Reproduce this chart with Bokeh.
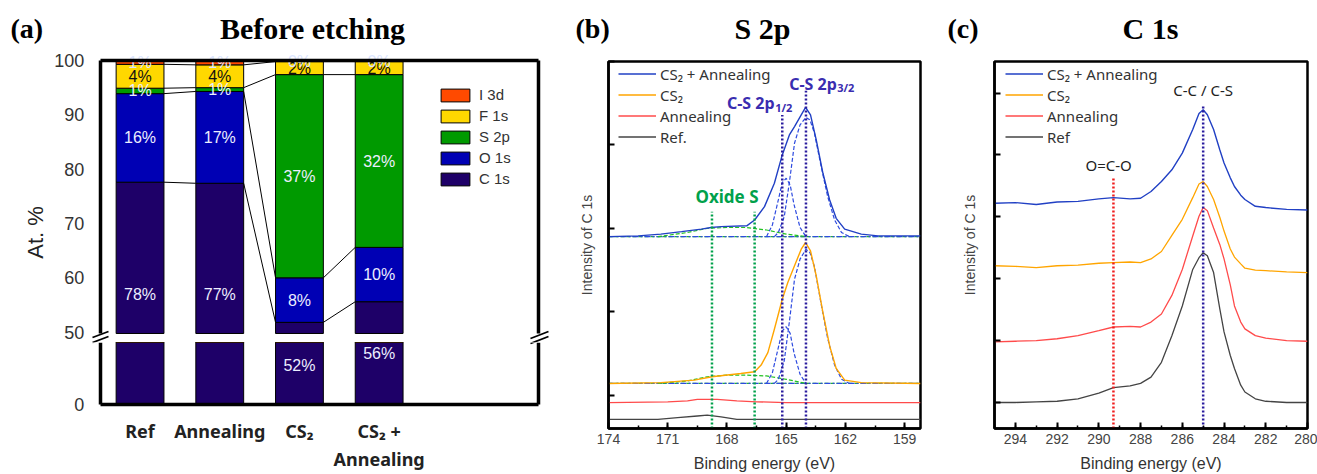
import numpy as np
from bokeh.plotting import figure
from bokeh.layouts import row, column
from bokeh.models import (Range1d, LinearAxis, FixedTicker, SingleIntervalTicker,
                          Legend, LegendItem)
from bokeh.embed import file_html
from bokeh.resources import INLINE
from bokeh.core.properties import value

# ---------------- (a) composition data ----------------
samples = ["Ref", "Annealing", "CS₂", "CS₂ +\nAnnealing"]
elements = ["C 1s", "O 1s", "S 2p", "F 1s", "I 3d"]
c1s = [77.6, 77.4, 51.8, 55.6]
o1s = [16.3, 16.9, 8.2, 10.0]
s2p = [1.0, 0.7, 37.4, 31.8]
f1s = [4.4, 4.2, 2.4, 2.4]
i3d = [0.7, 0.8, 0.2, 0.2]
c1s_label_y = [57.0, 57.0, 30.0, 39.0]
c1s_label_lower = [False, False, True, True]
a_ticks_upper = [50, 60, 70, 80, 90, 100]
a_ticks_lower = [0]

# ---------------- (b) S 2p spectra ----------------
b_x_csa = [174, 172.5, 171.35, 170.3, 169.3, 168.8, 168.3, 167.0, 166.6, 166.1, 165.6, 165.2,
           164.84, 164.58, 164.24, 164.02, 163.77, 163.48, 163.14, 162.8, 162.47, 162.04,
           161.2, 160.35, 158.2]
b_y_csa = [2.90, 2.91, 2.93, 2.96, 2.99, 3.01, 3.02, 3.03, 3.10, 3.26, 3.54, 3.88,
           4.12, 4.22, 4.36, 4.45, 4.36, 4.06, 3.66, 3.34, 3.12, 2.99,
           2.93, 2.91, 2.91]
b_x_cs2 = [174, 171.35, 169.65, 168.76, 167.3, 166.6, 166.27, 165.93, 165.6, 165.2, 164.92,
           164.58, 164.24, 164.02, 163.77, 163.48, 163.14, 162.8, 162.47, 162.04, 161.2, 158.2]
b_y_cs2 = [1.14, 1.15, 1.18, 1.22, 1.26, 1.28, 1.36, 1.51, 1.79, 2.15, 2.35,
           2.55, 2.75, 2.83, 2.73, 2.43, 1.99, 1.59, 1.32, 1.18, 1.15, 1.14]
b_x_ann = [174, 171, 170, 169.5, 168.5, 167.5, 166.5, 165, 162, 158.2]
b_y_ann = [0.91, 0.92, 0.93, 0.95, 0.95, 0.93, 0.92, 0.91, 0.91, 0.91]
b_x_ref = [174, 171.5, 170.5, 169.5, 169.0, 168.3, 167.5, 166, 158.2]
b_y_ref = [0.71, 0.71, 0.73, 0.75, 0.76, 0.74, 0.71, 0.71, 0.71]

fit_x_p32 = [165.6, 165.4, 165.1, 164.84, 164.58, 164.3, 164.0, 163.8, 163.57, 163.23,
             162.9, 162.55, 162.2, 161.8]
fit_csa_p32 = [2.90, 2.95, 3.14, 3.55, 4.02, 4.24, 4.33, 4.30, 4.14, 3.74, 3.38, 3.10, 2.95, 2.90]
fit_cs2_p32 = [1.14, 1.19, 1.41, 1.88, 2.39, 2.63, 2.75, 2.71, 2.54, 2.09, 1.68, 1.36, 1.19, 1.14]
fit_x_p12 = [166.0, 165.7, 165.4, 165.2, 165.0, 164.8, 164.6, 164.3, 164.0]
fit_csa_p12 = [2.90, 3.04, 3.34, 3.55, 3.60, 3.52, 3.28, 3.01, 2.90]
fit_cs2_p12 = [1.14, 1.27, 1.57, 1.77, 1.82, 1.74, 1.50, 1.25, 1.14]
fit_x_ox = [171.5, 170.0, 169.0, 168.0, 167.0, 166.0, 165.0, 164.0]
fit_csa_ox = [2.90, 2.95, 3.00, 3.01, 3.01, 2.98, 2.93, 2.90]
fit_cs2_ox = [1.14, 1.17, 1.22, 1.24, 1.24, 1.23, 1.19, 1.14]
fit_bg_x = [174, 158.2]
fit_bg_csa = [2.90, 2.90]
fit_bg_cs2 = [1.14, 1.14]

b_mark_x = [168.76, 166.6, 165.2, 164.0]
b_mark_top = [3.20, 3.20, 4.36, 4.65]
b_ticks_y = [1, 2, 3, 4, 5]

# ---------------- (c) C 1s spectra ----------------
c_x = [295, 294, 293, 292, 291, 290, 289.3, 288.5, 288, 287.5, 287, 286.5, 286, 285.5,
       285.2, 285.0, 284.8, 284.5, 284.2, 284.0, 283.7, 283.5, 283.2, 283, 282.5, 282, 281, 280]
c_y_csa = [4.22, 4.23, 4.20, 4.24, 4.25, 4.29, 4.31, 4.29, 4.30, 4.41, 4.57, 4.76, 5.03, 5.41,
           5.67, 5.73, 5.65, 5.41, 5.08, 4.87, 4.63, 4.49, 4.35, 4.28, 4.17, 4.15, 4.12, 4.11]
c_y_cs2 = [3.21, 3.20, 3.18, 3.21, 3.22, 3.25, 3.26, 3.27, 3.26, 3.32, 3.44, 3.70, 3.96, 4.31,
           4.53, 4.57, 4.49, 4.28, 3.99, 3.77, 3.48, 3.35, 3.24, 3.17, 3.14, 3.13, 3.11, 3.10]
c_y_ann = [1.98, 1.99, 2.00, 2.03, 2.08, 2.16, 2.22, 2.23, 2.22, 2.30, 2.43, 2.73, 3.15, 3.69,
           4.01, 4.15, 4.10, 3.82, 3.55, 3.32, 2.90, 2.56, 2.30, 2.19, 2.08, 2.04, 2.00, 1.99]
c_y_ref = [1.00, 1.00, 1.01, 1.02, 1.06, 1.15, 1.24, 1.27, 1.31, 1.41, 1.65, 2.08, 2.56, 3.15,
           3.34, 3.42, 3.37, 3.10, 2.51, 2.14, 1.76, 1.55, 1.28, 1.17, 1.06, 1.02, 1.00, 1.00]
c_mark_x = [289.3, 285.0]
c_mark_top = [4.63, 5.81]
c_ticks_y = [1, 2, 3, 4, 5, 6]

# ---------------- styles ----------------
SANS = "Liberation Sans"
KO = "Noto Sans"
SERIF = "Liberation Serif"
EL_COLORS = ["#1E0068", "#0000B4", "#009A00", "#FFD800", "#FF4A00"]
COL_CSA = "#2140C4"
COL_CS2 = "#FFA500"
COL_ANN = "#FF4B4B"
COL_REF = "#444444"
FIT_BLUE = "#2E4BE0"
FIT_GREEN = "#22C222"
MARK_GREEN = "#00A14B"
MARK_NAVY = "#2A1C9E"
MARK_RED = "#F01E1E"
LBL_NAVY = "#3A2DB0"
TOTAL_W = 1317
HEAD_H = 46
SPLIT_Y = 342   # page row where the upper and lower halves of panel (a) meet


def txt(p, x, y, text, size, color="black", font=SANS, style="normal", align="left",
        baseline="middle", angle=0):
    p.text(x=[x], y=[y], text=[text], text_font=value(font), text_font_size=value(size),
           text_font_style=value(style), text_color=color, text_align=align,
           text_baseline=baseline, angle=angle, angle_units="deg")


def line_axis(width=3.5, **kw):
    return LinearAxis(ticker=FixedTicker(ticks=[]), axis_line_width=width,
                      axis_line_color="black", major_tick_line_color=None,
                      minor_tick_line_color=None, **kw)


# ================= header row (panel titles) =================
head = figure(width=TOTAL_W, height=HEAD_H, x_range=Range1d(0, TOTAL_W),
              y_range=Range1d(HEAD_H, 0), x_axis_location=None, y_axis_location=None,
              output_backend="svg", toolbar_location=None, min_border=0)
head.outline_line_color = None
head.xgrid.grid_line_color = None
head.ygrid.grid_line_color = None
panel_tags = ["(a)", "(b)", "(c)"]
panel_tag_x = [10, 575, 947]
panel_titles = ["Before etching", "S 2p", "C 1s"]
panel_title_x = [312, 762, 1150]
title_mid_y = 28
head.text(x=panel_tag_x, y=[title_mid_y] * 3, text=panel_tags, text_font=value(SERIF),
          text_font_style=value("bold"), text_font_size=value("28px"), text_color="black",
          text_align="left", text_baseline="middle")
head.text(x=panel_title_x, y=[title_mid_y] * 3, text=panel_titles, text_font=value(SERIF),
          text_font_style=value("bold"), text_font_size=value("30px"), text_color="black",
          text_align="center", text_baseline="middle")

# ================= panel (a) =================
xA = list(range(len(samples)))
comp = np.array([c1s, o1s, s2p, f1s, i3d])
tops = np.cumsum(comp, axis=0)
bots = tops - comp
bar_w = 0.6
upper_floor = 49.75
A_PX_PER_UNIT = 279 / 51.356   # upper half: 100 at y=60
LO_PX_PER_UNIT = 1.3           # lower half: 0 at y=404


def a_x(px):
    return -1.5 + (px - 20) * 6.65 / 530


def a_up_y(py):
    return 100 - (py - 60) / A_PX_PER_UNIT


def a_lo_y(py):
    return (404 - py) / LO_PX_PER_UNIT


pa = figure(width=560, height=SPLIT_Y - HEAD_H, x_range=Range1d(-1.5, 5.15),
            y_range=Range1d(a_up_y(SPLIT_Y), a_up_y(HEAD_H)),
            x_axis_location=None, output_backend="svg", toolbar_location=None,
            min_border_left=20, min_border_right=10, min_border_top=0, min_border_bottom=0)
pl = figure(width=560, height=474 - SPLIT_Y, x_range=Range1d(-1.5, 5.15),
            y_range=Range1d(a_lo_y(474), a_lo_y(SPLIT_Y)),
            output_backend="svg", toolbar_location=None,
            min_border_left=20, min_border_right=10, min_border_top=0, min_border_bottom=0)
for p, bnds, ticks in ((pa, (upper_floor, 100), a_ticks_upper),
                       (pl, (0, a_lo_y(SPLIT_Y)), a_ticks_lower)):
    p.outline_line_color = None
    p.xgrid.grid_line_color = None
    p.ygrid.grid_line_color = None
    p.yaxis.fixed_location = -0.5
    p.yaxis.bounds = bnds
    p.yaxis.ticker = FixedTicker(ticks=ticks)
    p.yaxis.axis_line_width = 3.5
    p.yaxis.axis_line_color = "black"
    p.yaxis.major_tick_line_color = None
    p.yaxis.minor_tick_line_color = None
    p.yaxis.major_label_text_font = SANS
    p.yaxis.major_label_text_font_size = "18px"
    p.yaxis.major_label_text_color = "#333333"
    p.yaxis.major_label_standoff = 10
    p.add_layout(line_axis(fixed_location=5.0, bounds=bnds), "right")
pa.add_layout(line_axis(fixed_location=100, bounds=(-0.5, 5.0)), "above")

pl.xaxis.fixed_location = 0
pl.xaxis.bounds = (-0.5, 5.0)
pl.xaxis.ticker = FixedTicker(ticks=xA)
pl.xaxis.major_label_overrides = {i: s for i, s in enumerate(samples)}
pl.xaxis.axis_line_width = 3.5
pl.xaxis.axis_line_color = "black"
pl.xaxis.major_tick_line_color = None
pl.xaxis.minor_tick_line_color = None
pl.xaxis.major_label_text_font = KO
pl.xaxis.major_label_text_font_style = "bold"
pl.xaxis.major_label_text_font_size = "18px"
pl.xaxis.major_label_text_color = "#222222"
pl.xaxis.major_label_standoff = 8

bar_renderers = []
for k in range(len(elements)):
    r = pa.vbar(x=xA, bottom=np.maximum(bots[k], upper_floor).tolist(), top=tops[k].tolist(),
                width=bar_w, fill_color=EL_COLORS[k], line_color="black", line_width=1)
    pl.vbar(x=xA, bottom=bots[k].tolist(), top=np.minimum(tops[k], 50).tolist(), width=bar_w,
            fill_color=EL_COLORS[k], line_color="black", line_width=1)
    bar_renderers.append(r)

# connecting lines between adjacent bars at every stack boundary
for k in range(len(elements) - 1):
    pa.segment(x0=[i + bar_w / 2 for i in xA[:-1]], y0=tops[k][:-1].tolist(),
               x1=[i + 1 - bar_w / 2 for i in xA[:-1]], y1=tops[k][1:].tolist(),
               line_color="black", line_width=1)

# percentage labels
for k in range(1, len(elements)):
    mids = (bots[k] + comp[k] / 2).tolist()
    labels = [f"{v:.0f}%" for v in comp[k]]
    if elements[k] == "F 1s":
        col = "#111111"
    elif elements[k] == "I 3d":
        col = "#DCE6FF"
    else:
        col = "#ECEEFF"
    pa.text(x=xA, y=mids, text=labels, text_font=value(SANS), text_font_size=value("16px"),
            text_align="center", text_baseline="middle", text_color=col)
c_txt = [f"{v:.0f}%" for v in c1s]
up = [i for i in xA if not c1s_label_lower[i]]
lo = [i for i in xA if c1s_label_lower[i]]
pa.text(x=up, y=[c1s_label_y[i] for i in up], text=[c_txt[i] for i in up],
        text_font=value(SANS), text_font_size=value("16px"), text_align="center",
        text_baseline="middle", text_color="#ECEEFF")
pl.text(x=lo, y=[c1s_label_y[i] for i in lo], text=[c_txt[i] for i in lo],
        text_font=value(SANS), text_font_size=value("16px"), text_align="center",
        text_baseline="middle", text_color="#ECEEFF")

leg_a = Legend(items=[LegendItem(label=elements[k], renderers=[bar_renderers[k]])
                      for k in reversed(range(len(elements)))],
               location=(417, SPLIT_Y - 91 - 96), padding=0, margin=0, spacing=4,
               glyph_width=36, glyph_height=16, label_height=16, label_standoff=6,
               label_text_font=SANS, label_text_font_size="15px", label_text_color="#333333",
               border_line_color=None, background_fill_alpha=0)
pa.add_layout(leg_a)

# axis-break marks (page pixels), drawn in both halves of the broken axis
break_marks = [(92, 337, 108, 331), (92, 342, 108, 336),
               (530, 338, 548, 331), (530, 343, 548, 336)]
for p, fy in ((pa, a_up_y), (pl, a_lo_y)):
    p.segment(x0=[a_x(m[0]) for m in break_marks], y0=[fy(m[1]) for m in break_marks],
              x1=[a_x(m[2]) for m in break_marks], y1=[fy(m[3]) for m in break_marks],
              line_color="black", line_width=1.8)

txt(pa, a_x(35), a_up_y(232), "At. %", "22px", color="#222222", font=SANS,
    align="center", baseline="middle", angle=90)


# ================= panels (b), (c) =================
def spectrum_fig(width, xr, yr, left, right, tick_interval, yticks, ylab_standoff):
    p = figure(width=width, height=474 - HEAD_H, x_range=xr, y_range=yr, output_backend="svg",
               toolbar_location=None, min_border_left=left, min_border_right=right,
               min_border_top=61 - HEAD_H, min_border_bottom=44)
    p.xgrid.grid_line_color = None
    p.ygrid.grid_line_color = None
    p.outline_line_color = "black"
    p.outline_line_width = 2.5
    p.outline_line_alpha = 1
    p.xaxis.ticker = SingleIntervalTicker(interval=tick_interval, num_minor_ticks=2)
    p.yaxis.ticker = FixedTicker(ticks=yticks)
    for ax in (p.xaxis, p.yaxis):
        ax.axis_line_width = 2.5
        ax.axis_line_color = "black"
        ax.major_tick_in = 6
        ax.major_tick_out = 0
        ax.major_tick_line_width = 2
        ax.minor_tick_in = 3
        ax.minor_tick_out = 0
        ax.minor_tick_line_width = 1.5
    p.yaxis.minor_tick_line_color = None
    p.yaxis.major_label_overrides = {t: "" for t in yticks}
    p.yaxis.axis_label = "Intensity of C 1s"
    p.yaxis.axis_label_text_font = SANS
    p.yaxis.axis_label_text_font_size = "14px"
    p.yaxis.axis_label_text_font_style = "normal"
    p.yaxis.axis_label_text_color = "#444444"
    p.yaxis.axis_label_standoff = ylab_standoff
    p.xaxis.major_label_text_font = SANS
    p.xaxis.major_label_text_font_size = "14px"
    p.xaxis.major_label_text_color = "#444444"
    p.xaxis.major_label_standoff = 5
    p.xaxis.axis_label = "Binding energy (eV)"
    p.xaxis.axis_label_text_font = SANS
    p.xaxis.axis_label_text_font_size = "16px"
    p.xaxis.axis_label_text_font_style = "normal"
    p.xaxis.axis_label_text_color = "#333333"
    p.xaxis.axis_label_standoff = 8
    return p


def spectrum_legend(p, rends, labels, loc):
    leg = Legend(items=[LegendItem(label=l, renderers=[r]) for l, r in zip(labels, rends)],
                 location=loc, padding=0, margin=0, spacing=0, glyph_width=38,
                 glyph_height=21, label_height=21, label_standoff=4,
                 label_text_font=KO, label_text_font_size="15px", label_text_color="#333333",
                 border_line_color=None, background_fill_alpha=0)
    p.add_layout(leg)


# ---- (b)
pB = spectrum_fig(380, Range1d(174, 158.2), Range1d(0.6, 5.0), 48, 20, 3, b_ticks_y, 14)
dash_fit = "4 2"
dash_bg = "6 2 2 2"
for bg in (fit_bg_csa, fit_bg_cs2):
    pB.line(fit_bg_x, bg, line_color=FIT_GREEN, line_dash=dash_fit, line_width=1.2)
    pB.line(fit_bg_x, bg, line_color=FIT_BLUE, line_dash=dash_bg, line_width=1.2)
for ox in (fit_csa_ox, fit_cs2_ox):
    pB.line(fit_x_ox, ox, line_color=FIT_GREEN, line_dash=dash_fit, line_width=1.2)
for pk in (fit_csa_p12, fit_cs2_p12):
    pB.line(fit_x_p12, pk, line_color=FIT_BLUE, line_dash=dash_fit, line_width=1.2)
for pk in (fit_csa_p32, fit_cs2_p32):
    pB.line(fit_x_p32, pk, line_color=FIT_BLUE, line_dash=dash_fit, line_width=1.2)

rb_ref = pB.line(b_x_ref, b_y_ref, line_color=COL_REF, line_width=1.3)
rb_ann = pB.line(b_x_ann, b_y_ann, line_color=COL_ANN, line_width=1.3)
rb_cs2 = pB.line(b_x_cs2, b_y_cs2, line_color=COL_CS2, line_width=1.4)
rb_csa = pB.line(b_x_csa, b_y_csa, line_color=COL_CSA, line_width=1.4)

pB.segment(x0=b_mark_x, y0=[pB.y_range.start] * len(b_mark_x), x1=b_mark_x, y1=b_mark_top,
           line_color=[MARK_GREEN, MARK_GREEN, MARK_NAVY, MARK_NAVY], line_dash="2 2",
           line_width=2.5)
spectrum_legend(pB, [rb_csa, rb_cs2, rb_ann, rb_ref],
                ["CS₂ + Annealing", "CS₂", "Annealing", "Ref."], (10, 281))

txt(pB, 164.85, 4.73, "C-S 2p", "16px", color=LBL_NAVY, font=KO, style="bold")
txt(pB, 162.42, 4.69, "3/2", "11px", color=LBL_NAVY, font=KO, style="bold")
txt(pB, 168.0, 4.50, "C-S 2p", "16px", color=LBL_NAVY, font=KO, style="bold")
txt(pB, 165.56, 4.45, "1/2", "11px", color=LBL_NAVY, font=KO, style="bold")
txt(pB, 168.0, 3.38, "Oxide S", "17px", color=MARK_GREEN, font=KO, style="bold",
    align="center")

# ---- (c)
pC = spectrum_fig(377, Range1d(295, 280), Range1d(0.58, 6.51), 54, 10, 2, c_ticks_y, 17)
rc_ref = pC.line(c_x, c_y_ref, line_color=COL_REF, line_width=1.3)
rc_ann = pC.line(c_x, c_y_ann, line_color=COL_ANN, line_width=1.3)
rc_cs2 = pC.line(c_x, c_y_cs2, line_color=COL_CS2, line_width=1.3)
rc_csa = pC.line(c_x, c_y_csa, line_color=COL_CSA, line_width=1.4)
pC.segment(x0=c_mark_x, y0=[pC.y_range.start] * len(c_mark_x), x1=c_mark_x, y1=c_mark_top,
           line_color=[MARK_RED, MARK_NAVY], line_dash="2 2", line_width=2.5)
spectrum_legend(pC, [rc_csa, rc_cs2, rc_ann, rc_ref],
                ["CS₂ + Annealing", "CS₂", "Annealing", "Ref"], (11, 281))
txt(pC, 289.53, 4.84, "O=C-O", "15px", color="#222222", font=KO, align="center")
txt(pC, 285.0, 6.05, "C-C / C-S", "15px", color="#222222", font=KO, align="center")

layout = column(head, row(column(pa, pl), pB, pC))
open("out.html", "w").write(file_html(layout, INLINE))
